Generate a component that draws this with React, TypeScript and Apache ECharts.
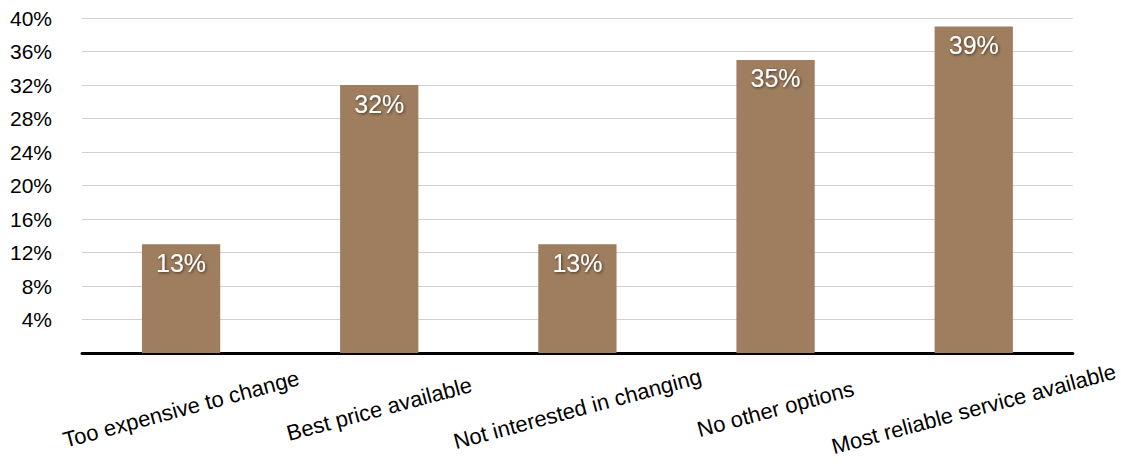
import React, { useEffect, useRef } from "react";
import * as echarts from "echarts";

const categories = [
  "Too expensive to change",
  "Best price available",
  "Not interested in changing",
  "No other options",
  "Most reliable service available",
];
const values = [13, 32, 13, 35, 39];
const yTicks = { min: 0, max: 40, interval: 4 };

const FONT = '"Liberation Sans", Arial, sans-serif';

export default function App() {
  const ref = useRef<HTMLDivElement>(null);
  useEffect(() => {
    document.body.style.margin = "0";
    const chart = echarts.init(ref.current!, undefined, { renderer: "svg" });
    chart.setOption({
      animation: false,
      grid: { left: 82, right: 46, top: 18, bottom: 117, containLabel: false },
      xAxis: {
        type: "category",
        data: categories,
        axisLine: { show: true, lineStyle: { color: "#000", width: 3 } },
        axisTick: { show: false },
        axisLabel: {
          interval: 0,
          rotate: 15,
          align: "center",
          verticalAlign: "middle",
          margin: 56,
          fontFamily: FONT,
          fontSize: 22,
          color: "#000",
        },
      },
      yAxis: {
        type: "value",
        min: yTicks.min,
        max: yTicks.max,
        interval: yTicks.interval,
        axisLine: { show: false },
        axisTick: { show: false },
        splitLine: { lineStyle: { color: "#d0d0d0", width: 1 } },
        axisLabel: {
          margin: 30,
          fontFamily: FONT,
          fontSize: 21,
          color: "#000",
          formatter: (v: number) => (v === 0 ? "" : v + "%"),
        },
      },
      series: [
        {
          type: "bar",
          data: values,
          barWidth: "39.5%",
          itemStyle: { color: "#9E7E5E" },
          label: {
            show: true,
            position: "insideTop",
            distance: 6,
            formatter: "{c}%",
            color: "#fff",
            fontFamily: FONT,
            fontSize: 25,
            textShadowColor: "rgba(0,0,0,0.6)",
            textShadowBlur: 3,
            textShadowOffsetX: 1,
            textShadowOffsetY: 1,
          },
        },
      ],
    });
    return () => chart.dispose();
  }, []);
  return <div ref={ref} style={{ width: 1121, height: 470 }} />;
}
